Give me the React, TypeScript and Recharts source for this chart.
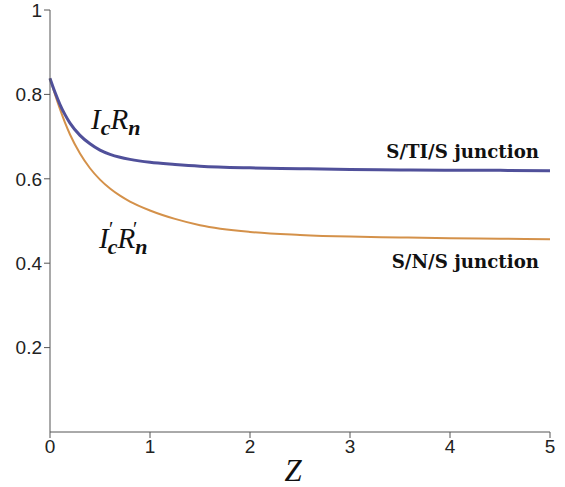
import React from "react";
import { LineChart, Line, XAxis, YAxis, Customized } from "recharts";

const zValues = [0, 0.05, 0.1, 0.15, 0.2, 0.3, 0.4, 0.5, 0.6, 0.7, 0.8, 1.0, 1.25, 1.5, 2, 2.5, 3, 3.5, 4, 4.5, 5];
const stiValues = [0.838, 0.805, 0.776, 0.752, 0.732, 0.703, 0.683, 0.668, 0.658, 0.651, 0.646, 0.639, 0.634, 0.630, 0.626, 0.624, 0.622, 0.621, 0.620, 0.620, 0.619];
const snsValues = [0.838, 0.800, 0.765, 0.733, 0.705, 0.66, 0.625, 0.598, 0.577, 0.560, 0.546, 0.525, 0.505, 0.490, 0.474, 0.467, 0.463, 0.461, 0.459, 0.458, 0.457];
const xTicks = [0, 1, 2, 3, 4, 5];
const yTicks = [0.2, 0.4, 0.6, 0.8, 1];

const data = zValues.map((z, i) => ({ z, sti: stiValues[i], sns: snsValues[i] }));

const BLUE = "#50509a";
const ORANGE = "#d4914a";
const AXIS = "#555";
const tickStyle = { fontFamily: "Liberation Sans, Arial, sans-serif", fontSize: 19, fill: "#222" };
const SERIF = "'Liberation Serif', 'Times New Roman', serif";
const WIDE_SERIF = "'DejaVu Serif', serif";

const Annotations = () => (
  <g>
    <text x={91} y={129} fontFamily={SERIF} fontStyle="italic" fontSize={29} fill="#111">
      I
      <tspan fontSize={22} fontWeight="bold" dy={6}>c</tspan>
      <tspan dy={-6}>R</tspan>
      <tspan fontSize={22} fontWeight="bold" dy={6}>n</tspan>
    </text>
    <text x={99} y={248} fontFamily={SERIF} fontStyle="italic" fontSize={29} fill="#111">
      I
      <tspan fontSize={22} fontWeight="bold" dy={6} dx={-1}>c</tspan>
      <tspan dy={-6}>R</tspan>
      <tspan fontSize={22} fontWeight="bold" dy={6}>n</tspan>
    </text>
    <text x={109} y={236} fontFamily={SERIF} fontSize={20} fill="#111">′</text>
    <text x={133} y={236} fontFamily={SERIF} fontSize={20} fill="#111">′</text>
    <text x={539} y={158} textAnchor="end" fontFamily={WIDE_SERIF} fontWeight="bold" fontSize={18.2} fill="#111">
      S/TI/S junction
    </text>
    <text x={539} y={268} textAnchor="end" fontFamily={WIDE_SERIF} fontWeight="bold" fontSize={18.2} fill="#111">
      S/N/S junction
    </text>
    <text x={293} y={481} textAnchor="middle" fontFamily={SERIF} fontStyle="italic" fontSize={31} fill="#111">
      Z
    </text>
  </g>
);

export default function App() {
  return (
    <div style={{ position: "absolute", left: 0, top: 0, background: "#fff" }}>
      <LineChart width={565} height={487} data={data} margin={{ top: 10, right: 15, bottom: 0, left: 0 }}>
        <XAxis
          dataKey="z"
          type="number"
          domain={[0, 5]}
          ticks={xTicks}
          tickSize={6}
          tickMargin={2}
          height={55}
          stroke={AXIS}
          tick={tickStyle}
          interval={0}
        />
        <YAxis
          type="number"
          domain={[0, 1]}
          ticks={yTicks}
          tickSize={6}
          tickMargin={2}
          width={50}
          stroke={AXIS}
          tick={tickStyle}
          interval={0}
        />
        <Line type="monotone" dataKey="sns" stroke={ORANGE} strokeWidth={2} dot={false} isAnimationActive={false} />
        <Line type="monotone" dataKey="sti" stroke={BLUE} strokeWidth={3} dot={false} isAnimationActive={false} />
        <Customized component={Annotations} />
      </LineChart>
    </div>
  );
}
